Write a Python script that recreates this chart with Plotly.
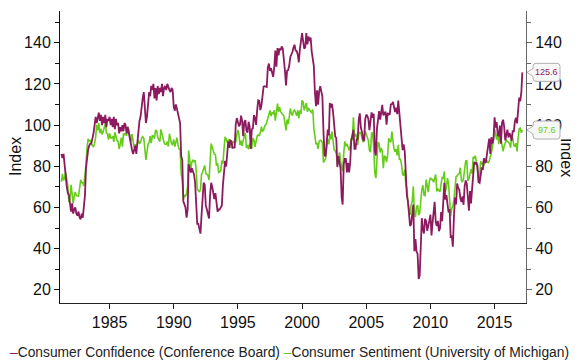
import plotly.graph_objects as go
import pandas as pd

# ---------------- data (monthly, Apr 1981 - Mar 2017) ----------------
start_month = "1981-04-01"
end_month = "2017-03-01"

confidence = [
    86, 84, 86, 80, 75, 70, 67, 66, 62,                                   # 1981 Apr-Dec
    58, 62, 57, 59, 60, 57, 56, 58, 55, 54.3, 57, 55,                     # 1982
    60, 66, 79, 86, 88, 90, 91, 91, 93, 96, 100, 104,                     # 1983
    101, 104, 106, 102, 105, 100, 104, 101, 105, 99, 103, 102,            # 1984
    104, 100, 103, 99, 104, 98, 103, 100, 101, 96, 99, 97,               # 1985
    100, 97, 101, 100, 96, 99, 96, 95, 90, 88, 86, 88,                    # 1986
    90, 86, 92, 97, 102, 104, 110, 113, 116, 108, 101, 104,               # 1987
    112, 116, 114, 119, 117, 120, 113, 118, 112, 119, 115, 118,           # 1988
    116, 120, 114, 118, 119, 117, 120, 118, 117, 116, 118, 117,           # 1989
    109, 107, 110, 108, 106, 104, 101, 85, 83, 63, 61, 60,                # 1990
    55, 59, 81, 79, 77, 79, 77, 76, 72, 60, 52, 52,                       # 1991
    50, 47.3, 56, 65, 72, 71, 61, 59, 57, 54.6, 66, 72,                   # 1992
    70, 67, 64, 67, 61, 58, 59, 59, 60, 61, 71, 79,                       # 1993
    82.6, 79.9, 86.7, 92.1, 88.9, 92.5, 92.1, 88.9, 89.0, 89.1, 100.4, 103.4,   # 1994
    101.4, 99.4, 100.2, 104.6, 102.0, 94.6, 101.4, 102.4, 97.3, 96.3, 101.6, 99.2,  # 1995
    88.4, 98.0, 98.4, 104.8, 103.5, 100.1, 107.0, 112.0, 111.8, 107.3, 109.5, 114.2,  # 1996
    118.7, 118.9, 118.5, 118.5, 127.9, 129.9, 126.3, 127.6, 125.4, 123.4, 128.1, 136.2,  # 1997
    128.3, 137.4, 133.8, 137.2, 136.3, 138.2, 137.2, 133.1, 126.4, 119.3, 126.4, 126.7,  # 1998
    128.9, 133.1, 134.0, 135.5, 137.7, 139.0, 136.2, 136.0, 134.2, 130.5, 137.0, 141.7,  # 1999
    144.7, 140.8, 137.1, 137.7, 144.7, 139.2, 143.0, 140.8, 142.5, 135.8, 132.6, 128.6,  # 2000
    115.7, 109.2, 116.9, 109.9, 116.1, 118.9, 116.3, 114.0, 97.0, 85.3, 84.9, 94.6,  # 2001
    97.8, 95.0, 110.7, 108.5, 110.3, 106.3, 97.4, 94.5, 93.7, 79.6, 84.9, 80.7,   # 2002
    78.8, 64.8, 61.4, 81.0, 83.6, 83.5, 77.0, 81.7, 77.0, 81.7, 92.5, 94.8,       # 2003
    97.7, 88.5, 88.5, 93.0, 93.1, 102.8, 105.7, 98.7, 96.7, 92.9, 92.6, 102.7,    # 2004
    105.1, 104.4, 103.0, 97.5, 103.1, 106.2, 103.6, 105.5, 87.5, 85.2, 98.3, 103.8,  # 2005
    106.8, 102.7, 107.5, 109.8, 104.7, 105.4, 106.5, 100.2, 105.9, 105.1, 105.3, 110.0,  # 2006
    110.2, 111.2, 108.2, 106.3, 108.5, 105.3, 111.9, 105.6, 99.5, 95.2, 87.8, 90.6,  # 2007
    87.3, 76.4, 65.9, 62.8, 58.1, 51.0, 51.9, 58.5, 61.4, 38.8, 44.7, 38.6,       # 2008
    37.4, 25.3, 26.9, 40.8, 54.8, 49.3, 47.4, 54.5, 53.4, 48.7, 50.6, 53.6,       # 2009
    56.5, 46.4, 52.3, 57.7, 62.7, 52.9, 51.0, 53.5, 48.5, 49.9, 57.8, 53.3,       # 2010
    64.8, 72.0, 63.8, 66.0, 61.7, 57.6, 59.2, 45.2, 46.4, 40.9, 55.2, 64.8,       # 2011
    61.5, 71.6, 69.5, 68.7, 64.4, 62.7, 65.4, 61.3, 70.3, 73.1, 71.5, 66.7,       # 2012
    58.4, 68.0, 61.9, 69.0, 76.2, 82.1, 81.0, 81.8, 80.2, 72.4, 72.0, 77.5,       # 2013
    79.4, 78.3, 83.9, 81.7, 82.2, 86.4, 90.3, 93.4, 86.0, 94.1, 91.0, 93.1,       # 2014
    103.8, 98.8, 101.4, 95.2, 94.6, 99.8, 91.0, 101.3, 102.6, 99.1, 92.6, 96.3,   # 2015
    97.8, 94.0, 96.1, 94.7, 92.4, 97.4, 96.7, 101.8, 103.5, 100.8, 109.4, 113.3,  # 2016
    111.6, 116.1, 125.6,                                                  # 2017 Jan-Mar
]

sentiment = [
    72.4, 76.3, 73.1, 74.1, 77.2, 73.1, 70.3, 62.5, 64.3,                 # 1981 Apr-Dec
    71.0, 66.5, 62.0, 65.5, 67.5, 65.7, 65.4, 65.4, 69.3, 73.4, 72.1, 71.9,   # 1982
    70.4, 74.6, 80.8, 89.1, 93.3, 92.2, 92.8, 90.9, 89.9, 89.3, 91.1, 94.2,   # 1983
    100.1, 97.4, 101.0, 96.1, 98.1, 95.5, 96.6, 99.1, 100.9, 96.3, 95.7, 92.9,  # 1984
    96.0, 93.7, 93.7, 94.6, 91.8, 96.5, 94.0, 92.4, 92.1, 88.4, 90.9, 93.9,   # 1985
    89.5, 95.9, 95.1, 96.2, 94.8, 99.3, 97.7, 94.9, 91.9, 95.6, 91.4, 89.1,   # 1986
    90.4, 90.2, 90.8, 92.8, 91.1, 91.5, 93.7, 94.4, 93.6, 89.3, 83.1, 86.8,   # 1987
    90.8, 91.6, 94.6, 91.2, 94.8, 94.7, 93.4, 97.4, 97.3, 94.1, 93.0, 91.9,   # 1988
    97.9, 95.4, 94.3, 91.5, 90.7, 90.6, 92.0, 89.6, 95.8, 93.9, 90.9, 90.5,   # 1989
    93.0, 89.5, 91.3, 93.9, 90.6, 88.3, 88.2, 76.4, 72.8, 63.9, 66.0, 65.5,   # 1990
    66.8, 70.4, 87.7, 81.8, 78.3, 82.1, 82.9, 82.0, 83.0, 78.3, 69.1, 68.2,   # 1991
    67.5, 68.8, 76.0, 77.2, 79.2, 80.4, 76.6, 76.1, 75.6, 73.3, 85.3, 91.0,   # 1992
    89.3, 86.6, 85.9, 85.6, 80.3, 81.5, 77.0, 77.3, 77.9, 82.7, 81.2, 88.2,   # 1993
    94.3, 93.2, 91.5, 92.6, 92.8, 91.2, 89.0, 91.7, 91.5, 92.7, 91.6, 95.1,   # 1994
    97.6, 95.1, 90.3, 92.5, 89.8, 92.7, 94.4, 96.2, 88.9, 90.2, 88.2, 91.0,   # 1995
    89.3, 88.5, 93.7, 92.7, 89.4, 92.4, 94.7, 95.3, 94.7, 96.5, 99.2, 96.9,   # 1996
    97.4, 99.7, 100.0, 101.4, 103.2, 104.5, 107.1, 104.4, 106.0, 105.6, 107.2, 102.1,  # 1997
    106.6, 110.4, 106.5, 108.7, 106.5, 105.6, 105.2, 104.4, 100.9, 97.4, 102.7, 100.5,  # 1998
    103.9, 108.1, 105.7, 104.6, 106.8, 107.3, 106.0, 104.5, 107.2, 103.2, 107.2, 105.4,  # 1999
    112.0, 111.3, 107.1, 109.2, 110.7, 106.4, 108.3, 107.3, 106.8, 105.8, 107.6, 98.4,  # 2000
    94.7, 90.6, 91.5, 88.4, 92.0, 92.6, 92.4, 91.5, 81.8, 82.7, 83.9, 88.8,   # 2001
    93.0, 90.7, 95.7, 93.0, 96.9, 92.4, 88.1, 87.6, 86.1, 80.6, 84.2, 86.7,   # 2002
    82.4, 79.9, 77.6, 86.0, 92.1, 89.7, 90.9, 89.3, 87.7, 89.6, 93.7, 92.6,   # 2003
    103.8, 94.4, 95.8, 94.2, 90.2, 95.6, 96.7, 95.9, 94.2, 91.7, 92.8, 97.1,  # 2004
    95.5, 94.1, 92.6, 87.7, 86.9, 96.0, 96.5, 89.1, 76.9, 74.2, 81.6, 91.5,   # 2005
    91.2, 86.7, 88.9, 87.4, 79.1, 84.9, 84.7, 82.0, 85.4, 93.6, 92.1, 91.7,   # 2006
    96.9, 91.3, 88.4, 87.1, 88.3, 85.3, 90.4, 83.4, 83.4, 80.9, 76.1, 75.5,   # 2007
    78.4, 70.8, 69.5, 62.6, 59.8, 56.4, 61.2, 63.0, 70.3, 57.6, 55.3, 60.1,   # 2008
    61.2, 56.3, 57.3, 65.1, 68.7, 70.8, 66.0, 65.7, 73.5, 70.6, 67.4, 72.5,   # 2009
    74.4, 73.6, 73.6, 72.2, 73.6, 76.0, 67.8, 68.9, 68.2, 67.7, 71.6, 74.5,   # 2010
    74.2, 77.5, 67.5, 69.8, 74.3, 71.5, 63.7, 55.8, 59.5, 60.8, 63.7, 69.9,   # 2011
    75.0, 75.3, 76.2, 76.4, 79.3, 73.2, 72.3, 74.3, 78.3, 82.6, 82.7, 72.9,   # 2012
    73.8, 77.6, 78.6, 76.4, 84.5, 84.1, 85.1, 82.1, 77.5, 73.2, 75.1, 82.5,   # 2013
    81.2, 81.6, 80.0, 84.1, 81.9, 82.5, 81.8, 82.5, 84.6, 86.9, 88.8, 93.6,   # 2014
    98.1, 95.4, 93.0, 95.9, 90.7, 96.1, 93.1, 91.9, 87.2, 90.0, 91.3, 92.6,   # 2015
    92.0, 91.7, 91.0, 89.0, 94.7, 93.5, 90.0, 89.8, 91.2, 87.2, 93.8, 98.2,   # 2016
    98.5, 96.3, 97.6,                                                     # 2017 Jan-Mar
]

series_names = ["Consumer Confidence (Conference Board)",
                "Consumer Sentiment (University of Michigan)"]
tick_years = [1985, 1990, 1995, 2000, 2005, 2010, 2015]
y_ticks = [20, 40, 60, 80, 100, 120, 140]
axis_title = "Index"

# ---------------- styling ----------------
MAROON = "#8B1A5E"
GREEN = "#66CC1A"
FONT = "Liberation Sans, Arial, sans-serif"
TICK_FONT = dict(family=FONT, size=16, color="#111")
Y_RANGE = [13.6, 155.4]
X_RANGE = ["1981-02-20", "2017-06-13"]

# figure is 571x353 because the page body adds an 8px margin
W, H = 571, 353
M_L, M_R, M_T, M_B = 52, 53, 3, 58
PLOT_W = W - M_L - M_R
PLOT_H = H - M_T - M_B

dates = pd.date_range(start_month, end_month, freq="MS")

fig = go.Figure()
fig.add_trace(go.Scatter(x=dates, y=sentiment, mode="lines", name=series_names[1],
                         line=dict(color=GREEN, width=1.6), yaxis="y"))
fig.add_trace(go.Scatter(x=dates, y=confidence, mode="lines", name=series_names[0],
                         line=dict(color=MAROON, width=1.8), yaxis="y2"))

tickvals_x = [f"{y}-01-01" for y in tick_years]

fig.update_layout(
    width=W, height=H,
    margin=dict(l=M_L, r=M_R, t=M_T, b=M_B),
    paper_bgcolor="white", plot_bgcolor="white",
    showlegend=False,
    xaxis=dict(type="date", range=X_RANGE, tickvals=tickvals_x,
               ticktext=[str(y) for y in tick_years],
               showline=True, linecolor="#222", linewidth=1,
               ticks="outside", ticklen=5, tickcolor="#222",
               showgrid=False, zeroline=False, tickfont=TICK_FONT),
    yaxis=dict(range=Y_RANGE, tickvals=y_ticks, showline=True, linecolor="#111",
               linewidth=1, ticks="outside", ticklen=5, tickcolor="#111",
               minor=dict(dtick=10, tick0=0, ticks="outside", ticklen=4, tickcolor="#111"),
               showgrid=False, zeroline=False, tickfont=TICK_FONT),
    yaxis2=dict(range=Y_RANGE, tickvals=y_ticks, overlaying="y", side="right",
                anchor="x", showline=True, linecolor="#666", linewidth=1,
                ticks="outside", ticklen=5, tickcolor="#666",
                minor=dict(dtick=10, tick0=0, ticks="outside", ticklen=4, tickcolor="#666"),
                showgrid=False, zeroline=False, tickfont=TICK_FONT),
)

# axis titles
fig.add_annotation(text=axis_title, xref="paper", yref="paper", x=0, y=0.5,
                   xshift=-45, xanchor="center", yanchor="middle", textangle=-90,
                   showarrow=False, font=dict(family=FONT, size=16, color="#111"))
fig.add_annotation(text=axis_title, xref="paper", yref="paper", x=1, y=0.5,
                   xshift=41, xanchor="center", yanchor="middle", textangle=90,
                   showarrow=False, font=dict(family=FONT, size=16, color="#111"))

# end-value callouts (drawn in paper space so they are not clipped)
for val, col in [(confidence[-1], MAROON), (sentiment[-1], GREEN)]:
    yfrac = (val - Y_RANGE[0]) / (Y_RANGE[1] - Y_RANGE[0])
    fig.add_shape(type="path", xref="paper", yref="paper", xsizemode="pixel", ysizemode="pixel",
                  xanchor=1, yanchor=yfrac,
                  path="M 1,0 L 7,-4 L 7,-6 Q 7,-9 10,-9 L 31,-9 Q 34,-9 34,-6 "
                       "L 34,6 Q 34,9 31,9 L 10,9 Q 7,9 7,6 L 7,4 Z",
                  fillcolor="#f7f7f7", line=dict(color="#b0b0b0", width=1), layer="above")
    fig.add_annotation(x=1, y=yfrac, xref="paper", yref="paper", text=f"{val:.1f}",
                       xshift=20.5, showarrow=False, xanchor="center", yanchor="middle",
                       font=dict(family=FONT, size=9, color=col))

# legend (as text line with coloured dashes)
legend_text = (f"<span style='color:{MAROON}'>–</span>{series_names[0]} "
               f"<span style='color:{GREEN}'>–</span>{series_names[1]}")
fig.add_annotation(text=legend_text, xref="paper", yref="paper", x=-M_L / PLOT_W,
                   y=-(344 - (H - M_B)) / PLOT_H, xanchor="left", yanchor="middle",
                   showarrow=False, font=dict(family=FONT, size=13.8, color="#222"))

fig.write_html("out.html")
